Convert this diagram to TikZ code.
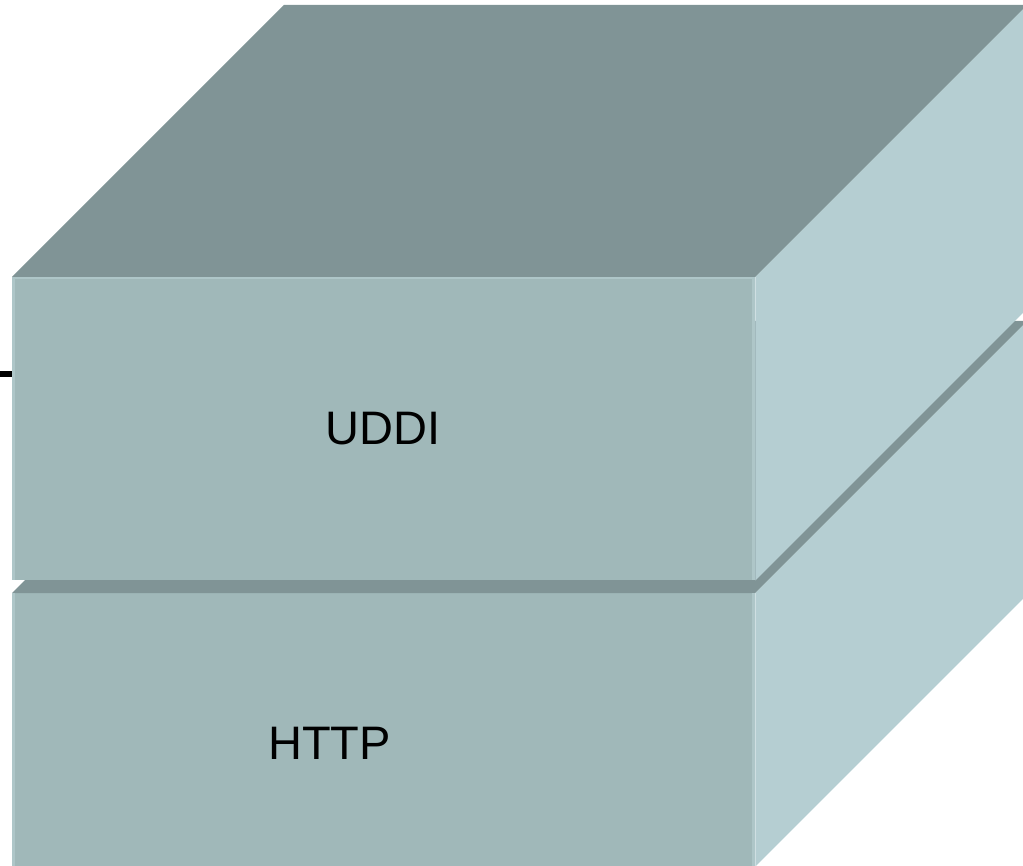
\documentclass[tikz,border=0pt]{standalone}
\usepackage{fontspec}
\setmainfont{Liberation Sans}
\definecolor{frontc}{RGB}{160,184,185}
\definecolor{topc}{RGB}{128,148,150}
\definecolor{sidec}{RGB}{181,206,210}
\definecolor{edgec}{RGB}{174,198,200}
\tikzset{
  front/.style={rectangle, fill=frontc, draw=none, inner sep=0pt,
    minimum width=743pt, minimum height=#1, anchor=north west},
  topface/.style={fill=topc, draw=none},
  sideface/.style={fill=sidec, draw=none},
  shine/.style={draw=edgec, line width=3pt},
  layertext/.style={font=\fontsize{47}{50}\selectfont, inner sep=0pt, text=black},
  wire/.style={draw=black, line width=6pt}
}
\begin{document}
\begin{tikzpicture}[x=1pt, y=-1pt]
\useasboundingbox (0,0) rectangle (1023,866);
\def\dep{272}
% lower layer (HTTP)
\node[front=273pt] (http) at (12,593) {};
\fill[topface] (http.north west) -- (http.north east)
  -- ++(\dep,-\dep) -- ([xshift=\dep pt, yshift=\dep pt]http.north west) -- cycle;
\fill[sideface] (http.north east) -- ++(\dep,-\dep)
  -- ([xshift=\dep pt, yshift=\dep pt]http.south east) -- (http.south east) -- cycle;
\draw[shine] ([xshift=1.5pt]http.north west) -- ([xshift=1.5pt]http.south west);
\draw[shine] ([xshift=-1.5pt]http.north east) -- ([xshift=-1.5pt]http.south east);
% upper layer (UDDI)
\node[front=303pt] (uddi) at (12,277) {};
\fill[topface] (uddi.north west) -- (uddi.north east)
  -- ++(\dep,-\dep) -- ([xshift=\dep pt, yshift=\dep pt]uddi.north west) -- cycle;
\fill[sideface] (uddi.north east) -- ++(\dep,-\dep)
  -- ([xshift=\dep pt, yshift=\dep pt]uddi.south east) -- (uddi.south east) -- cycle;
\draw[shine] ([xshift=1.5pt]uddi.north west) -- ([xshift=1.5pt]uddi.south west);
\draw[shine] ([xshift=-1.5pt]uddi.north east) -- ([xshift=-1.5pt]uddi.south east);
\draw[shine, line width=2pt] ([yshift=-1pt]uddi.north west) -- ([yshift=-1pt]uddi.north east);
% labels
\node[layertext] (tu) at (383,429) {UDDI};
\node[layertext] (th) at (329.5,743.5) {HTTP};
% incoming line on the left
\coordinate (lin) at (0,374);
\draw[wire] (lin) -- (lin -| uddi.west);
\end{tikzpicture}
\end{document}
